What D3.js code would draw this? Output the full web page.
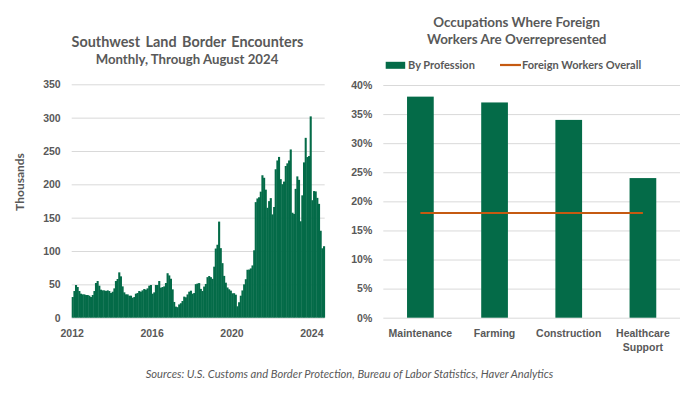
<!DOCTYPE html>
<html>
<head>
<meta charset="utf-8">
<script src="https://cdn.jsdelivr.net/npm/d3@7"></script>
<style>
  body { margin: 0; background: #fff; }
  svg { display: block; font-family: Lato, "Open Sans", sans-serif; }
  .tick text { fill: #595959; font-weight: bold; font-size: 10.5px; }
</style>
</head>
<body>
<svg id="chart" width="700" height="394"></svg>
<script>
// Left panel: southwest land border encounters, thousands, Jan 2012 - Aug 2024
const encounterStart = "2012-01";
const encounters = [
  // 2012
  31, 40, 49, 46, 40, 36, 35, 35, 34, 34, 33, 31,
  // 2013
  34, 40, 52, 55, 48, 42, 41, 41, 40, 41, 40, 37,
  // 2014
  39, 44, 55, 58, 68, 62, 47, 38, 35, 35, 33, 33,
  // 2015
  30, 31, 36, 37, 40, 39, 41, 43, 42, 44, 48, 49,
  // 2016
  36, 38, 49, 49, 55, 45, 46, 47, 52, 66.7, 63.4, 58.4,
  // 2017
  42.5, 23.6, 16.6, 15.8, 19.9, 21.7, 25.0, 31.6, 30.6, 34.9, 39.0, 40.5,
  // 2018
  36.0, 37.0, 50.3, 51.2, 51.9, 43.2, 40.0, 46.7, 50.6, 60.8, 62.5, 60.8,
  // 2019
  58.3, 76.5, 103.7, 109.4, 144.1, 104.3, 81.8, 62.7, 52.5, 45.3, 42.6, 40.6,
  // 2020
  36.6, 36.7, 34.5, 17.1, 23.2, 33.0, 40.9, 50.0, 57.7, 71.9, 72.1, 73.9,
  // 2021
  78.4, 101.1, 173.3, 178.8, 180.6, 189.0, 213.6, 209.8, 192.0, 164.8, 174.8, 179.3,
  // 2022
  154.9, 166.0, 222.6, 235.8, 241.1, 207.8, 200.2, 204.1, 227.5, 231.5, 235.8, 252.3,
  // 2023
  157.4, 155.6, 193.2, 211.9, 206.7, 144.6, 183.5, 232.9, 269.7, 240.9, 242.4, 301.9,
  // 2024
  176.2, 189.9, 189.4, 179.7, 170.7, 130.4, 104.1, 107.2
];
const encounterTicks = [0, 50, 100, 150, 200, 250, 300, 350];
const yearTicks = [2012, 2016, 2020, 2024];

// Right panel: share of foreign workers by occupation
const occupations = ["Maintenance", "Farming", "Construction", "Healthcare Support"];
const byProfession = [0.38, 0.37, 0.34, 0.24];
const foreignOverall = 0.18;
const shareTicks = [0, 0.05, 0.10, 0.15, 0.20, 0.25, 0.30, 0.35, 0.40];

const green = "#046b48";
const orange = "#c55a11";
const grey = "#595959";
const gridColor = "#d9d9d9";

const svg = d3.select("#chart");

// ---------- left chart ----------
const parseMonth = d3.timeParse("%Y-%m");
const t0 = parseMonth(encounterStart);
const months = encounters.map((v, i) => ({ date: d3.timeMonth.offset(t0, i), value: v }));
const tEnd = d3.timeMonth.offset(t0, encounters.length);

const x1 = d3.scaleTime().domain([t0, tEnd]).range([71.7, 324.7]);
const y1 = d3.scaleLinear().domain([0, 350]).range([317.7, 84.3]);

const left = svg.append("g");

left.append("g")
    .attr("transform", "translate(71.7,0)")
    .call(d3.axisLeft(y1).tickValues(encounterTicks).tickSize(-253).tickPadding(11))
    .call(g => g.select(".domain").remove())
    .call(g => g.selectAll(".tick line").attr("stroke", gridColor).attr("stroke-width", 1));

left.append("g")
    .selectAll("rect")
    .data(months)
    .enter()
    .append("rect")
    .attr("x", d => x1(d.date))
    .attr("width", d => x1(d3.timeMonth.offset(d.date, 1)) - x1(d.date) + 0.4)
    .attr("y", d => y1(d.value))
    .attr("height", d => y1(0) - y1(d.value))
    .attr("fill", green);

left.append("g")
    .attr("transform", "translate(0,317.7)")
    .call(d3.axisBottom(x1)
        .tickValues(yearTicks.map(yr => new Date(yr, 0, 1)))
        .tickFormat(d3.timeFormat("%Y"))
        .tickSize(0)
        .tickPadding(12))
    .call(g => g.select(".domain").remove());

left.append("text")
    .attr("transform", "translate(24,182) rotate(-90)")
    .attr("text-anchor", "middle")
    .attr("fill", grey)
    .style("font-size", "12px")
    .style("font-weight", "bold")
    .text("Thousands");

left.append("text")
    .attr("x", 187.5).attr("y", 46.7)
    .attr("text-anchor", "middle")
    .attr("fill", grey)
    .style("font-size", "14.4px")
    .style("font-weight", "bold")
    .style("word-spacing", "2px")
    .text("Southwest Land Border Encounters");

left.append("text")
    .attr("x", 187).attr("y", 64.3)
    .attr("text-anchor", "middle")
    .attr("fill", grey)
    .style("font-size", "13.2px")
    .style("font-weight", "bold")
    .text("Monthly, Through August 2024");

// ---------- right chart ----------
const x2 = d3.scaleBand().domain(occupations).range([383.3, 680]).paddingInner(0.64).paddingOuter(0.32);
const y2 = d3.scaleLinear().domain([0, 0.40]).range([317.7, 85]);

const right = svg.append("g");

right.append("g")
    .attr("transform", "translate(383.3,0)")
    .call(d3.axisLeft(y2).tickValues(shareTicks).tickFormat(d3.format(".0%")).tickSize(-296.7).tickPadding(11))
    .call(g => g.select(".domain").remove())
    .call(g => g.selectAll(".tick line").attr("stroke", gridColor).attr("stroke-width", 1));

right.append("g")
    .selectAll("rect")
    .data(occupations)
    .enter()
    .append("rect")
    .attr("x", d => x2(d))
    .attr("width", x2.bandwidth())
    .attr("y", (d, i) => y2(byProfession[i]))
    .attr("height", (d, i) => y2(0) - y2(byProfession[i]))
    .attr("fill", green);

const overallLine = d3.line()
    .x(d => x2(d) + x2.bandwidth() / 2)
    .y(() => y2(foreignOverall));

right.append("path")
    .datum(occupations)
    .attr("d", overallLine)
    .attr("fill", "none")
    .attr("stroke", orange)
    .attr("stroke-width", 2.2);

const xAxis2 = right.append("g")
    .attr("transform", "translate(0,317.7)")
    .call(d3.axisBottom(x2).tickSize(0).tickPadding(12))
    .call(g => g.select(".domain").remove());

// split two-word label onto two lines
xAxis2.selectAll(".tick text")
    .filter(d => d === "Healthcare Support")
    .text(null)
    .call(t => {
        t.append("tspan").attr("x", 0).attr("dy", "0.71em").text("Healthcare");
        t.append("tspan").attr("x", 0).attr("dy", "1.35em").text("Support");
    })
    .attr("dy", null);

right.append("text")
    .attr("x", 516.7).attr("y", 26.7)
    .attr("text-anchor", "middle")
    .attr("fill", grey)
    .style("font-size", "13.4px")
    .style("font-weight", "bold")
    .text("Occupations Where Foreign");

right.append("text")
    .attr("x", 516.7).attr("y", 43.7)
    .attr("text-anchor", "middle")
    .attr("fill", grey)
    .style("font-size", "13.4px")
    .style("font-weight", "bold")
    .text("Workers Are Overrepresented");

// legend
const legend = right.append("g");
legend.append("rect")
    .attr("x", 385.7).attr("y", 61.8)
    .attr("width", 19.5).attr("height", 7)
    .attr("fill", green);
legend.append("text")
    .attr("x", 408).attr("y", 68.5)
    .attr("fill", grey)
    .style("font-size", "11px")
    .style("font-weight", "bold")
    .text("By Profession");
legend.append("line")
    .attr("x1", 500).attr("x2", 521)
    .attr("y1", 65).attr("y2", 65)
    .attr("stroke", orange)
    .attr("stroke-width", 2.2);
legend.append("text")
    .attr("x", 522).attr("y", 68.5)
    .attr("fill", grey)
    .style("font-size", "11px")
    .style("font-weight", "bold")
    .text("Foreign Workers Overall");

// source line
svg.append("text")
    .attr("x", 349.5).attr("y", 378)
    .attr("text-anchor", "middle")
    .attr("fill", grey)
    .style("font-size", "11.2px")
    .style("font-style", "italic")
    .text("Sources: U.S. Customs and Border Protection, Bureau of Labor Statistics, Haver Analytics");
</script>
</body>
</html>
